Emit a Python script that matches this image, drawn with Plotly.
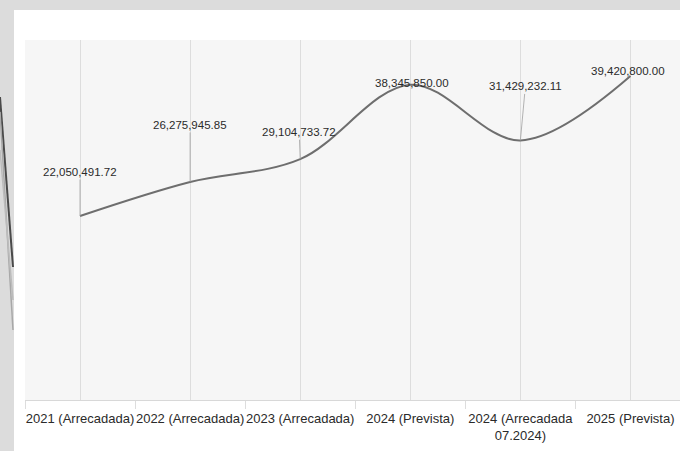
import plotly.graph_objects as go

categories = ["2021 (Arrecadada)", "2022 (Arrecadada)", "2023 (Arrecadada)",
              "2024 (Prevista)", "2024 (Arrecadada<br>07.2024)", "2025 (Prevista)"]
values = [22050491.72, 26275945.85, 29104733.72, 38345850.00, 31429232.11, 39420800.00]

# label offsets (pixels) of each value label relative to its point
label_dx = [0, 0, -1, 2, 5, -2]
label_dy = [-44, -57, -27, -2, -54, -5]

FONT = "Liberation Sans, Arial, sans-serif"

W, H = 680, 451
ML, MR, MT, MB = 25, 0, 40, 51
PW, PH = W - ML - MR, H - MT - MB


def px(x):
    return (x - ML) / PW


def py(y):
    return 1 - (y - MT) / PH


fig = go.Figure()
fig.add_trace(go.Scatter(
    x=categories, y=values, mode="lines",
    line=dict(color="#6e6e6e", width=2, shape="spline", smoothing=1.0),
    hoverinfo="skip", showlegend=False,
))

n = len(categories)
fig.add_trace(go.Scatter(x=[-0.5, n - 0.5], y=[values[0], values[0]], xaxis="x2",
                         mode="markers", marker=dict(opacity=0), hoverinfo="skip",
                         showlegend=False))

for c, v, dx, dy in zip(categories, values, label_dx, label_dy):
    fig.add_annotation(
        x=c, y=v, text=f"{v:,.2f}", showarrow=True, arrowhead=0,
        arrowwidth=0.8, arrowcolor="#a0a0a0", ax=dx, ay=dy, standoff=0,
        font=dict(family=FONT, size=11.5, color="#2a2a2a"),
    )

shapes = [
    dict(type="rect", xref="paper", yref="paper", x0=px(-5), x1=px(14), y0=py(460), y1=py(-5),
         fillcolor="#dcdcdc", line=dict(width=0), layer="below"),
    dict(type="rect", xref="paper", yref="paper", x0=px(-5), x1=px(690), y0=py(10), y1=py(-5),
         fillcolor="#dcdcdc", line=dict(width=0), layer="below"),
    dict(type="line", xref="paper", yref="paper", x0=px(0), y0=py(97), x1=px(13), y1=py(267),
         line=dict(color="#4a4a4a", width=2), layer="below"),
    dict(type="line", xref="paper", yref="paper", x0=px(0), y0=py(112), x1=px(13), y1=py(330),
         line=dict(color="#a8a8a8", width=1.5), layer="below"),
    dict(type="line", xref="paper", yref="paper", x0=px(0), y0=py(150), x1=px(13), y1=py(300),
         line=dict(color="#bcbcbc", width=1.5), layer="below"),
]

fig.update_layout(
    width=W, height=H,
    margin=dict(l=ML, r=MR, t=MT, b=MB, autoexpand=False),
    paper_bgcolor="white", plot_bgcolor="#f6f6f6",
    shapes=shapes,
    xaxis=dict(
        type="category", range=[-0.5, n - 0.55], showgrid=True, gridcolor="#dddddd",
        gridwidth=1, showline=True, linecolor="#d8d8d8", linewidth=1, ticks="",
        tickangle=0, ticklabelstandoff=6,
        tickfont=dict(family=FONT, size=13, color="#2a2a2a"), zeroline=False,
        automargin=False,
    ),
    xaxis2=dict(
        overlaying="x", range=[-0.5, n - 0.55], tickvals=[i - 0.5 for i in range(n + 1)],
        ticks="outside", ticklen=8, tickcolor="#dddddd", showticklabels=False,
        showgrid=False, zeroline=False, side="bottom", anchor="y", automargin=False,
    ),
    yaxis=dict(range=[-0.81e6, 43.9e6], visible=False, showgrid=False, zeroline=False),
)

fig.write_html("out.html", config={"displayModeBar": False},
               post_script="document.body.style.margin='0';")
